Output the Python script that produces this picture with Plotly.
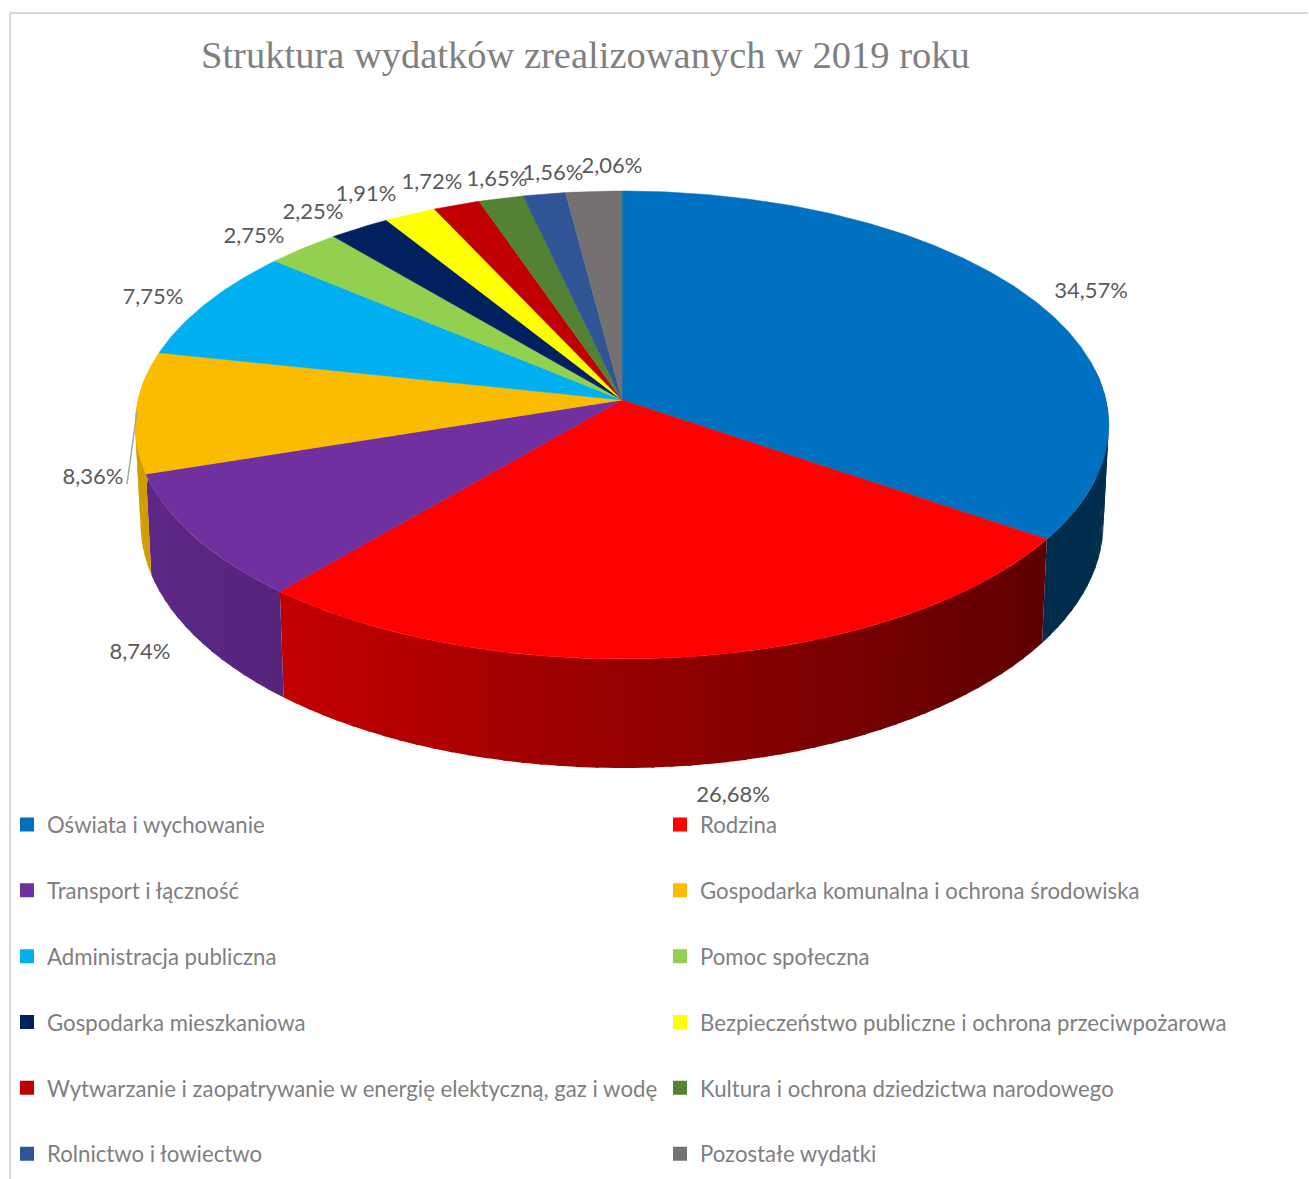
import numpy as np
import plotly.graph_objects as go

# ---- data ----
categories = ["Oświata i wychowanie", "Rodzina", "Transport i łączność",
              "Gospodarka komunalna i ochrona środowiska", "Administracja publiczna",
              "Pomoc społeczna", "Gospodarka mieszkaniowa",
              "Bezpieczeństwo publiczne i ochrona przeciwpożarowa",
              "Wytwarzanie i zaopatrywanie w energię elektyczną, gaz i wodę",
              "Kultura i ochrona dziedzictwa narodowego", "Rolnictwo i łowiectwo",
              "Pozostałe wydatki"]
values = [34.57, 26.68, 8.74, 8.36, 7.75, 2.75, 2.25, 1.91, 1.72, 1.65, 1.56, 2.06]
colors = ["#0070C0", "#FF0000", "#7030A0", "#FBBC00", "#00B0F0", "#92D050",
          "#002060", "#FFFF00", "#C00000", "#548235", "#2F5597", "#767171"]
title = "Struktura wydatków zrealizowanych w 2019 roku"

# ---- placement of the value labels (page pixels) ----
label_x = [1091, 733, 140, 93, 153, 254, 313, 366, 432, 497, 553, 612]
label_y = [292, 796, 653, 478, 298, 237, 213, 195, 183, 180, 174, 167]

# ---- perspective projection of the pie disc ----
W, H = 1309, 1179
CX, CY, R, A, C, H0, TAPER = 622, 400, 484, 231.3, 0.1068, 97.4, 0.989
OVERLAP = np.radians(0.4)


def top(theta):
    s, c = np.cos(theta), np.sin(theta)
    d = 1 + C * s
    return CX + R * c / d, CY - A * s / d


def bottom(theta):
    x, y = top(theta)
    return CX + (x - CX) * TAPER, y + H0 / (1 + C * np.cos(theta))


def shade(hex_col, x):
    f = np.clip(0.83 - 0.46 * (x - 150) / 895, 0.37, 0.83)
    if x > 1045:
        f = 0.40
    r, g, b = [int(hex_col[i:i + 2], 16) for i in (1, 3, 5)]
    return f"rgb({r * f:.0f},{g * f:.0f},{b * f:.0f})"


fig = go.Figure()
edges = np.cumsum([0] + values) / 100 * 2 * np.pi

# side walls: painted in order so the overlap hides the seams
for i, col in enumerate(colors):
    a0, a1 = edges[i], edges[i + 1]
    n = max(2, int(np.degrees(a1 - a0) / 2.0))
    grid = np.linspace(a0, a1, n + 1)
    for t0, t1 in zip(grid[:-1], grid[1:]):
        if np.cos((t0 + t1) / 2) > 0.12:
            continue
        ts = np.linspace(t0, min(t1 + OVERLAP, a1), 4)
        xt, yt = top(ts)
        xb, yb = bottom(ts[::-1])
        xs = np.r_[xt, xb, xt[0]]
        ys = np.r_[yt, yb, yt[0]]
        c = shade(col, float(xt.mean()))
        fig.add_trace(go.Scatter(x=xs, y=ys, mode="lines", fill="toself", fillcolor=c,
                                 line=dict(color=c, width=0), showlegend=False,
                                 hoverinfo="skip", legendgroup=categories[i]))

# top faces
for i, col in enumerate(colors):
    ts = np.linspace(edges[i], edges[i + 1], max(8, int(values[i] * 6)))
    xt, yt = top(ts)
    fig.add_trace(go.Scatter(x=np.r_[CX, xt, CX], y=np.r_[CY, yt, CY], mode="lines",
                             fill="toself", fillcolor=col, line=dict(color=col, width=0.5),
                             showlegend=False, legendgroup=categories[i],
                             text=f"{categories[i]}: {values[i]:.2f}%".replace(".", ","),
                             hoverinfo="text"))

# value labels
fig.add_trace(go.Scatter(x=label_x, y=label_y, mode="text",
                         text=[f"{v:.2f}%".replace(".", ",") for v in values],
                         textposition="middle center",
                         textfont=dict(family="Lato", size=22, color="#595959"),
                         showlegend=False, hoverinfo="skip"))

# legend entries, two columns
for i, cat in enumerate(categories):
    fig.add_trace(go.Scatter(x=[None], y=[None], mode="markers", name=cat,
                             marker=dict(symbol="square", size=14, color=colors[i]),
                             legendgroup=cat,
                             legend="legend" if i % 2 == 0 else "legend2"))

legend_common = dict(bgcolor="rgba(0,0,0,0)", orientation="v", yanchor="bottom", xanchor="left",
                     font=dict(family="Lato", size=22.2, color="#7F7F7F"),
                     tracegroupgap=34, itemclick=False, itemdoubleclick=False,
                     borderwidth=0)

fig.update_layout(
    width=W, height=H, margin=dict(l=0, r=0, t=0, b=0), autosize=False,
    paper_bgcolor="white", plot_bgcolor="white",
    title=dict(text=title, x=201 / W, xanchor="left", xref="paper",
               y=1 - 55 / H, yref="paper", yanchor="middle",
               font=dict(family="Liberation Serif", size=38.5, color="#808080")),
    xaxis=dict(range=[0, W], visible=False, fixedrange=True),
    yaxis=dict(range=[H, 0], visible=False, fixedrange=True),
    legend=dict(x=7 / W, y=3.5 / H, **legend_common),
    legend2=dict(x=660 / W, y=3.5 / H, **legend_common),
    shapes=[
        dict(type="line", x0=10, x1=10, y0=13, y1=H, line=dict(color="#D9D9D9", width=2)),
        dict(type="line", x0=10, x1=1308, y0=13, y1=13, line=dict(color="#D9D9D9", width=2)),
        dict(type="line", x0=137, x1=127, y0=411, y1=484, line=dict(color="#A6A6A6", width=1.5)),
    ],
)

fig.write_html("out.html", post_script="document.body.style.margin='0';",
               config=dict(displayModeBar=False))
